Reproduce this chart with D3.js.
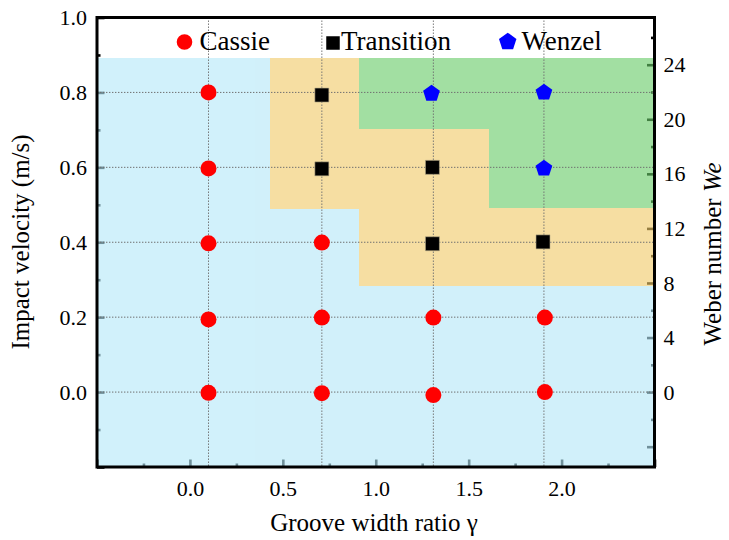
<!DOCTYPE html>
<html>
<head>
<meta charset="utf-8">
<script src="https://cdn.jsdelivr.net/npm/d3@7"></script>
<style>
  html, body { margin: 0; padding: 0; background: #ffffff; }
  svg { display: block; }
</style>
</head>
<body>
<svg id="chart" width="729" height="540"></svg>
<script>
// ---- wetting-state observations: groove width ratio γ vs impact velocity (m/s)
const cassieGamma      = [0.10, 0.10, 0.10, 0.10, 0.10, 0.71, 0.71, 0.71, 1.31, 1.31, 1.91, 1.91];
const cassieVelocity   = [0.80, 0.597, 0.397, 0.194, -0.002, 0.399, 0.199, -0.003, 0.199, -0.008, 0.199, 0.0];
const transitionGamma    = [0.71, 0.71, 1.305, 1.305, 1.90];
const transitionVelocity = [0.793, 0.596, 0.600, 0.396, 0.401];
const wenzelGamma    = [1.30, 1.905, 1.905];
const wenzelVelocity = [0.799, 0.802, 0.599];

// γ values of the tested grooves (vertical guide lines)
const testedGamma = [0.10, 0.71, 1.31, 1.905];
const testedVelocity = [0.0, 0.2, 0.4, 0.6, 0.8];

// ---- regime map: per γ column, velocity where Cassie ends and Wenzel starts
const regimeColumnEdges = [-0.5, 0.431, 0.910, 1.610, 2.5];
const transitionOnset   = [0.892, 0.489, 0.283, 0.283];
const wenzelOnset       = [0.892, 0.892, 0.702, 0.491];
const regimeTop = 0.892;

// ---- axes
const gammaDomain = [-0.5, 2.5];
const velocityDomain = [-0.2, 1.0];
const weberDomain = [-5.49, 27.46];
const gammaMajor = [-0.5, 0.0, 0.5, 1.0, 1.5, 2.0, 2.5];
const gammaMinor = [-0.25, 0.25, 0.75, 1.25, 1.75, 2.25];
const gammaLabels = ["0.0", "0.5", "1.0", "1.5", "2.0"];
const velocityMajor = [-0.2, 0.0, 0.2, 0.4, 0.6, 0.8, 1.0];
const velocityMinor = [-0.1, 0.1, 0.3, 0.5, 0.7, 0.9];
const velocityLabels = ["0.0", "0.2", "0.4", "0.6", "0.8", "1.0"];
const weberMajor = [-4, 0, 4, 8, 12, 16, 20, 24];
const weberMinor = [-2, 2, 6, 10, 14, 18, 22, 26];
const weberLabels = ["0", "4", "8", "12", "16", "20", "24"];

const legendNames = ["Cassie", "Transition", "Wenzel"];
const colors = { cassie: "#ff0000", transition: "#000000", wenzel: "#0000ff" };
const regimeFill = { cassie: "rgb(181,232,248)", transition: "rgb(242,203,106)", wenzel: "rgb(106,205,106)" };
const regimeOpacity = 0.62;

const FONT = "'Liberation Serif', 'Times New Roman', 'DejaVu Serif', serif";

const svg = d3.select("#chart").attr("font-family", FONT);
const plotLeft = 97, plotRight = 654.5, plotTop = 17.5, plotBottom = 467;

const x = d3.scaleLinear().domain(gammaDomain).range([plotLeft, plotRight]);
const y = d3.scaleLinear().domain(velocityDomain).range([plotBottom, plotTop]);
const yWe = d3.scaleLinear().domain(weberDomain).range([plotBottom, plotTop]);

// pentagon marker (point up), size = area
const symbolPentagon = {
  draw(ctx, size) {
    const R = Math.sqrt(size / (2.5 * Math.sin(2 * Math.PI / 5)));
    for (let i = 0; i < 5; i++) {
      const a = -Math.PI / 2 + i * 2 * Math.PI / 5;
      const px = R * Math.cos(a), py = R * Math.sin(a);
      if (i === 0) ctx.moveTo(px, py); else ctx.lineTo(px, py);
    }
    ctx.closePath();
  }
};

function fmtLabel(list) {
  return d => {
    const s = d3.format(".1f")(d);
    return list.includes(s) ? s : "";
  };
}

// ---- tick marks (inside the frame), drawn beneath the translucent regime map
function styleAxis(g) {
  g.attr("font-family", FONT).attr("font-size", 22);
  g.select(".domain").remove();
  g.selectAll(".tick line").attr("stroke", "#000").attr("stroke-width", 2.6);
  g.selectAll(".tick text").attr("fill", "#000");
}

const axisBottomMajor = svg.append("g").attr("transform", `translate(0,${plotBottom})`)
  .call(d3.axisBottom(x).tickValues(gammaMajor).tickSize(-7.5).tickPadding(13)
    .tickFormat(fmtLabel(gammaLabels)));
styleAxis(axisBottomMajor);
const axisBottomMinor = svg.append("g").attr("transform", `translate(0,${plotBottom})`)
  .call(d3.axisBottom(x).tickValues(gammaMinor).tickSize(-3.5).tickFormat(""));
styleAxis(axisBottomMinor);

const axisLeftMajor = svg.append("g").attr("transform", `translate(${plotLeft},0)`)
  .call(d3.axisLeft(y).tickValues(velocityMajor).tickSize(-7.5).tickPadding(10)
    .tickFormat(fmtLabel(velocityLabels)));
styleAxis(axisLeftMajor);
const axisLeftMinor = svg.append("g").attr("transform", `translate(${plotLeft},0)`)
  .call(d3.axisLeft(y).tickValues(velocityMinor).tickSize(-3.5).tickFormat(""));
styleAxis(axisLeftMinor);

const axisRightMajor = svg.append("g").attr("transform", `translate(${plotRight},0)`)
  .call(d3.axisRight(yWe).tickValues(weberMajor).tickSize(-7.5).tickPadding(9)
    .tickFormat(d => weberLabels.includes(String(d)) ? String(d) : ""));
styleAxis(axisRightMajor);
const axisRightMinor = svg.append("g").attr("transform", `translate(${plotRight},0)`)
  .call(d3.axisRight(yWe).tickValues(weberMinor).tickSize(-3.5).tickFormat(""));
styleAxis(axisRightMinor);

// ---- regime map
const regimes = svg.append("g").attr("shape-rendering", "crispEdges").attr("opacity", regimeOpacity);
regimeColumnEdges.slice(0, -1).forEach((x0, i) => {
  const x1 = regimeColumnEdges[i + 1];
  const bands = [
    { key: "cassie", lo: velocityDomain[0], hi: transitionOnset[i] },
    { key: "transition", lo: transitionOnset[i], hi: wenzelOnset[i] },
    { key: "wenzel", lo: wenzelOnset[i], hi: regimeTop }
  ];
  bands.filter(b => b.hi > b.lo).forEach(b => {
    regimes.append("rect")
      .attr("x", x(x0)).attr("width", x(x1) - x(x0))
      .attr("y", y(b.hi)).attr("height", y(b.lo) - y(b.hi))
      .attr("fill", regimeFill[b.key]);
  });
});

// ---- dotted guide lines
const grid = svg.append("g").attr("stroke", "#6f6f6f").attr("stroke-width", 1)
  .attr("stroke-dasharray", "1.4,1.6").attr("fill", "none");
grid.selectAll("line.v").data(testedGamma).join("line").attr("class", "v")
  .attr("x1", d => x(d)).attr("x2", d => x(d)).attr("y1", plotTop).attr("y2", plotBottom);
grid.selectAll("line.h").data(testedVelocity).join("line").attr("class", "h")
  .attr("x1", plotLeft).attr("x2", plotRight).attr("y1", d => y(d)).attr("y2", d => y(d));

// ---- frame
svg.append("rect").attr("x", plotLeft).attr("y", plotTop)
  .attr("width", plotRight - plotLeft).attr("height", plotBottom - plotTop)
  .attr("fill", "none").attr("stroke", "#000").attr("stroke-width", 3);

// ---- markers
const marks = svg.append("g");
marks.selectAll("path.cassie").data(d3.zip(cassieGamma, cassieVelocity)).join("path")
  .attr("class", "cassie")
  .attr("d", d3.symbol(d3.symbolCircle, Math.PI * 8 * 8))
  .attr("transform", d => `translate(${x(d[0])},${y(d[1])})`)
  .attr("fill", colors.cassie);
marks.selectAll("path.transition").data(d3.zip(transitionGamma, transitionVelocity)).join("path")
  .attr("class", "transition")
  .attr("d", d3.symbol(d3.symbolSquare, 14 * 14))
  .attr("transform", d => `translate(${x(d[0])},${y(d[1])})`)
  .attr("fill", colors.transition)
  .attr("stroke", "#b9ad8c").attr("stroke-width", 0.6);
marks.selectAll("path.wenzel").data(d3.zip(wenzelGamma, wenzelVelocity)).join("path")
  .attr("class", "wenzel")
  .attr("d", d3.symbol(symbolPentagon, 184))
  .attr("transform", d => `translate(${x(d[0])},${y(d[1]) + 0.8})`)
  .attr("fill", colors.wenzel);

// ---- legend
const legend = svg.append("g").attr("font-family", FONT).attr("font-size", 27);
const legendItems = [
  { name: legendNames[0], sym: d3.symbolCircle, size: Math.PI * 7.8 * 7.8, cx: 184.5, cy: 42, tx: 199.5, color: colors.cassie },
  { name: legendNames[1], sym: d3.symbolSquare, size: 13.5 * 13.5, cx: 333, cy: 43, tx: 341, color: colors.transition },
  { name: legendNames[2], sym: symbolPentagon, size: 200, cx: 507.7, cy: 41.8, tx: 521.5, color: colors.wenzel }
];
legendItems.forEach(it => {
  legend.append("path").attr("d", d3.symbol(it.sym, it.size))
    .attr("transform", `translate(${it.cx},${it.cy})`).attr("fill", it.color);
  legend.append("text").attr("x", it.tx).attr("y", 49.5).attr("fill", "#000").text(it.name);
});

// ---- axis titles
const titles = svg.append("g").attr("font-family", FONT).attr("font-size", 25).attr("fill", "#000");
titles.append("text").attr("x", 374).attr("y", 531)
  .attr("text-anchor", "middle").text("Groove width ratio γ");
titles.append("text").attr("transform", "translate(29,242) rotate(-90)")
  .attr("text-anchor", "middle").text("Impact velocity (m/s)");
const weTitle = titles.append("text").attr("transform", "translate(721,254) rotate(-90)")
  .attr("text-anchor", "middle");
weTitle.append("tspan").text("Weber number ");
weTitle.append("tspan").attr("font-style", "italic").text("We");
</script>
</body>
</html>
